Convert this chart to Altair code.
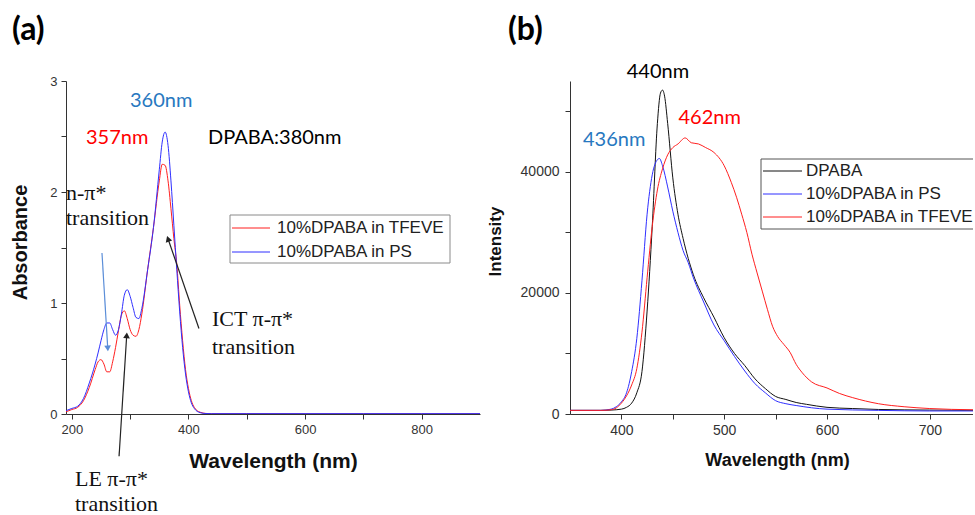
import altair as alt
import pandas as pd

# ---------------- Panel (a): absorbance ----------------
abs_wl = [190, 200, 210, 220, 230, 240, 245, 250, 255, 260, 265, 270, 275, 280, 285, 290,
          295, 300, 305, 310, 315, 320, 330, 340, 350, 355, 360, 365, 370, 375, 380, 385,
          390, 395, 400, 405, 410, 420, 430, 440, 500, 600, 700, 800, 900]
abs_tfeve = [0.02, 0.04, 0.06, 0.12, 0.24, 0.40, 0.47, 0.49, 0.45, 0.38, 0.38, 0.47, 0.60, 0.75, 0.89, 0.93,
             0.86, 0.76, 0.71, 0.70, 0.76, 0.90, 1.30, 1.68, 2.10, 2.25, 2.24, 2.10, 1.85, 1.58, 1.35, 0.98,
             0.66, 0.40, 0.23, 0.12, 0.06, 0.016, 0.005, 0.003, 0.003, 0.002, 0.002, 0.002, 0.002]
abs_ps = [0.03, 0.05, 0.07, 0.14, 0.28, 0.45, 0.55, 0.66, 0.76, 0.82, 0.82, 0.76, 0.71, 0.76, 0.90, 1.07,
          1.12, 1.06, 0.96, 0.87, 0.86, 0.95, 1.30, 1.68, 2.20, 2.45, 2.54, 2.42, 2.10, 1.70, 1.30, 0.92,
          0.60, 0.36, 0.20, 0.10, 0.05, 0.012, 0.004, 0.003, 0.003, 0.003, 0.003, 0.003, 0.003]
abs_series = ["10%DPABA in TFEVE", "10%DPABA in PS"]
abs_colors = ["#ff1f1f", "#2f2fff"]

# annotations (a)
ann_a_sans_label = ["360nm", "357nm", "DPABA:380nm"]
ann_a_sans_wl = [299.8, 224.3, 433.6]
ann_a_sans_val = [2.82, 2.49, 2.49]
ann_a_sans_color = ["#2878c0", "#ff0000", "#000000"]

ann_a_serif_label = ["n-π*", "transition", "ICT π-π*", "transition", "LE π-π*", "transition"]
ann_a_serif_wl = [190, 190, 440.4, 440.4, 205.4, 205.4]
ann_a_serif_val = [1.99, 1.77, 0.856, 0.60, -0.586, -0.81]

arrow_wl = [251.7, 281.0, 418.0]
arrow_val = [1.45, -0.38, 0.77]
arrow_wl2 = [261.5, 294.0, 365.5]
arrow_val2 = [0.60, 0.70, 1.57]
arrow_angle = [176.5, 3.7, 341.5]
arrow_color = ["#5b8ed8", "#222222", "#222222"]

# ---------------- Panel (b): photoluminescence ----------------
pl_dpaba_wl = [350, 380, 390, 400, 405, 410, 415, 420, 425, 430, 435, 438, 440, 442, 445, 450, 455,
               460, 470, 480, 490, 500, 510, 520, 530, 540, 550, 560, 570, 580, 600, 625, 650, 700, 742]
pl_dpaba = [600, 600, 650, 800, 1100, 1800, 3500, 7000, 17000, 31000, 48000, 53000, 53500, 52500, 48000,
            39000, 33000, 29000, 23000, 19200, 16000, 12600, 10000, 8000, 5800, 4200, 2900, 2400, 1900,
            1600, 1100, 900, 750, 650, 600]
pl_ps_wl = [350, 380, 390, 395, 400, 405, 410, 415, 420, 425, 430, 435, 437, 440, 445, 450, 455,
            460, 465, 470, 480, 490, 500, 510, 520, 530, 540, 550, 560, 570, 600, 650, 700, 742]
pl_ps = [600, 600, 800, 1200, 2000, 3500, 7000, 12500, 22000, 33000, 39500, 42000, 42200, 41000, 37500,
         33500, 30000, 27000, 25000, 22500, 18500, 14700, 12100, 9500, 7100, 5000, 3500, 2200, 1700,
         1400, 800, 600, 500, 500]
pl_tfeve_wl = [350, 380, 390, 395, 400, 405, 410, 415, 420, 425, 430, 435, 440, 445, 450, 455, 462,
               468, 475, 482, 490, 500, 507, 512, 517, 522, 527, 532, 537, 542, 547, 552, 558, 564,
               570, 576, 585, 600, 612, 625, 650, 675, 700, 742]
pl_tfeve = [600, 600, 700, 1000, 1800, 3000, 4800, 7500, 13500, 22500, 31000, 37000, 40500, 42800,
            44000, 44600, 45600, 44800, 44600, 44000, 43200, 41000, 38200, 35800, 33000, 30000, 26400,
            23300, 20300, 17300, 14500, 12800, 11500, 10200, 8200, 6800, 5300, 4300, 3400, 2700, 1700,
            1200, 900, 700]
pl_series = ["DPABA", "10%DPABA in PS", "10%DPABA in TFEVE"]
pl_colors = ["#111111", "#2f2fff", "#ff1f1f"]

ann_b_label = ["440nm", "462nm", "436nm"]
ann_b_wl = [405.2, 455.5, 362.6]
ann_b_val = [56530, 48930, 45290]
ann_b_color = ["#000000", "#ff0000", "#2878c0"]

SANS = "Liberation Sans"
SERIF = "Liberation Serif"
CAL = "Lato"

# ---------------- build panel (a) ----------------
WA, HA = 414, 333
n = len(abs_wl)
abs_df = pd.DataFrame({
    "wl": abs_wl * 2,
    "value": abs_tfeve + abs_ps,
    "series": [abs_series[0]] * n + [abs_series[1]] * n,
    "color": [abs_colors[0]] * n + [abs_colors[1]] * n,
})
xa_scale = alt.Scale(domain=[190, 900], nice=False, zero=False)
ya_scale = alt.Scale(domain=[0, 3], nice=False, zero=False)

xa_axis = alt.Axis(values=list(range(200, 900, 100)),
                   labelExpr="datum.value % 200 == 0 ? format(datum.value, 'd') : ''",
                   title="Wavelength (nm)", titleX=WA / 2, titleY=47,
                   titleBaseline="middle", titleAlign="center",
                   titleFontSize=21, labelFontSize=13, labelPadding=4)
ya_axis = alt.Axis(values=[0, 0.5, 1, 1.5, 2, 2.5, 3],
                   labelExpr="datum.value % 1 == 0 ? format(datum.value, 'd') : ''",
                   title="Absorbance", titleX=-46, titleY=161, titleAngle=270,
                   titleBaseline="middle", titleAlign="center",
                   titleFontSize=20, labelFontSize=13, labelPadding=4)

lines_a = alt.Chart(abs_df).mark_line(strokeWidth=1, clip=True, interpolate="monotone").encode(
    x=alt.X("wl:Q", scale=xa_scale, axis=xa_axis),
    y=alt.Y("value:Q", scale=ya_scale, axis=ya_axis),
    color=alt.Color("color:N", scale=None),
    detail="series:N",
    order="wl:Q",
)

ann_a_sans_df = pd.DataFrame({"wl": ann_a_sans_wl, "value": ann_a_sans_val,
                              "label": ann_a_sans_label, "color": ann_a_sans_color})
text_a_sans = alt.Chart(ann_a_sans_df).mark_text(
    align="left", baseline="middle", font=CAL, fontSize=20).encode(
    x=alt.X("wl:Q", scale=xa_scale), y=alt.Y("value:Q", scale=ya_scale),
    text="label:N", color=alt.Color("color:N", scale=None))

ann_a_serif_df = pd.DataFrame({"wl": ann_a_serif_wl, "value": ann_a_serif_val,
                               "label": ann_a_serif_label})
text_a_serif = alt.Chart(ann_a_serif_df).mark_text(
    align="left", baseline="middle", font=SERIF, fontSize=22, color="#111111").encode(
    x=alt.X("wl:Q", scale=xa_scale), y=alt.Y("value:Q", scale=ya_scale),
    text="label:N")

arrow_df = pd.DataFrame({"wl": arrow_wl, "value": arrow_val, "wl2": arrow_wl2,
                         "value2": arrow_val2, "ang": arrow_angle, "color": arrow_color})
arrow_lines = alt.Chart(arrow_df).mark_rule(strokeWidth=1.2).encode(
    x=alt.X("wl:Q", scale=xa_scale), y=alt.Y("value:Q", scale=ya_scale),
    x2="wl2:Q", y2="value2:Q", color=alt.Color("color:N", scale=None))
arrow_heads = alt.Chart(arrow_df).mark_point(shape="triangle", filled=True, size=45, opacity=1).encode(
    x=alt.X("wl2:Q", scale=xa_scale), y=alt.Y("value2:Q", scale=ya_scale),
    angle=alt.Angle("ang:Q", scale=None), color=alt.Color("color:N", scale=None))


def one(d):
    return pd.DataFrame({"k": [d]})


label_a = alt.Chart(one("(a)")).mark_text(
    align="left", baseline="middle", font=CAL, fontWeight="bold", fontSize=32, color="#000").encode(
    text="k:N", x=alt.value(-54), y=alt.value(-51))

leg_a_layers = [
    alt.Chart(one(0)).mark_rect(fill="white", stroke="#8a8a8a", strokeWidth=1).encode(
        x=alt.value(164), x2=alt.value(384), y=alt.value(134), y2=alt.value(182))
]
for i, (lab, col) in enumerate(zip(abs_series, abs_colors)):
    yy = 147 + 24 * i
    leg_a_layers.append(alt.Chart(one(lab)).mark_rule(strokeWidth=1, color=col).encode(
        x=alt.value(166), x2=alt.value(204), y=alt.value(yy)))
    leg_a_layers.append(alt.Chart(one(lab)).mark_text(
        align="left", baseline="middle", font=SANS, fontSize=17, color="#222").encode(
        text="k:N", x=alt.value(211), y=alt.value(yy)))

panel_a = alt.layer(lines_a, text_a_sans, text_a_serif, arrow_lines, arrow_heads, label_a,
                    *leg_a_layers).properties(width=WA, height=HA)

# ---------------- build panel (b) ----------------
WB, HB = 403, 333
pl_df = pd.DataFrame({
    "wl": pl_dpaba_wl + pl_ps_wl + pl_tfeve_wl,
    "value": pl_dpaba + pl_ps + pl_tfeve,
    "series": [pl_series[0]] * len(pl_dpaba_wl) + [pl_series[1]] * len(pl_ps_wl)
              + [pl_series[2]] * len(pl_tfeve_wl),
    "color": [pl_colors[0]] * len(pl_dpaba_wl) + [pl_colors[1]] * len(pl_ps_wl)
             + [pl_colors[2]] * len(pl_tfeve_wl),
})
xb_scale = alt.Scale(domain=[350, 742], nice=False, zero=False)
yb_scale = alt.Scale(domain=[0, 55000], nice=False, zero=False)
xb_axis = alt.Axis(values=list(range(400, 750, 50)),
                   labelExpr="datum.value % 100 == 0 ? format(datum.value, 'd') : ''",
                   title="Wavelength (nm)", titleX=207, titleY=46,
                   titleBaseline="middle", titleAlign="center",
                   titleFontSize=18, labelFontSize=14, labelPadding=4)
yb_axis = alt.Axis(values=list(range(0, 55000, 10000)),
                   labelExpr="datum.value % 20000 == 0 ? format(datum.value, 'd') : ''",
                   title="Intensity", titleX=-75, titleY=160, titleAngle=270,
                   titleBaseline="middle", titleAlign="center",
                   titleFontSize=17, labelFontSize=14, labelPadding=6)

lines_b = alt.Chart(pl_df).mark_line(strokeWidth=1, clip=True, interpolate="monotone").encode(
    x=alt.X("wl:Q", scale=xb_scale, axis=xb_axis),
    y=alt.Y("value:Q", scale=yb_scale, axis=yb_axis),
    color=alt.Color("color:N", scale=None),
    detail="series:N",
    order="wl:Q",
)
ann_b_df = pd.DataFrame({"wl": ann_b_wl, "value": ann_b_val, "label": ann_b_label, "color": ann_b_color})
text_b = alt.Chart(ann_b_df).mark_text(
    align="left", baseline="middle", font=CAL, fontSize=20).encode(
    x=alt.X("wl:Q", scale=xb_scale), y=alt.Y("value:Q", scale=yb_scale),
    text="label:N", color=alt.Color("color:N", scale=None))

label_b = alt.Chart(one("(b)")).mark_text(
    align="left", baseline="middle", font=CAL, fontWeight="bold", fontSize=32, color="#000").encode(
    text="k:N", x=alt.value(-62), y=alt.value(-51))

leg_b_layers = [
    alt.Chart(one(0)).mark_rect(fill="white", stroke="#555555", strokeWidth=1, clip=True).encode(
        x=alt.value(191), x2=alt.value(440), y=alt.value(78), y2=alt.value(148))
]
for i, (lab, col) in enumerate(zip(pl_series, pl_colors)):
    yy = 90 + 23 * i
    leg_b_layers.append(alt.Chart(one(lab)).mark_rule(strokeWidth=1, color=col, clip=True).encode(
        x=alt.value(193), x2=alt.value(232), y=alt.value(yy)))
    leg_b_layers.append(alt.Chart(one(lab)).mark_text(
        align="left", baseline="middle", font=SANS, fontSize=17, color="#222", clip=True).encode(
        text="k:N", x=alt.value(236), y=alt.value(yy)))

panel_b = alt.layer(lines_b, text_b, label_b, *leg_b_layers).properties(width=WB, height=HB)

chart = alt.hconcat(panel_a, panel_b, spacing=90, bounds="flush").properties(
    padding={"left": 10, "top": 14, "right": 0, "bottom": 0}
).configure_view(stroke=None).configure_axis(
    grid=False, domainColor="#333333", tickColor="#333333", labelColor="#333333",
    titleColor="#111111", labelFont=SANS, titleFont=SANS, titleFontWeight="bold",
    tickSize=5, domainWidth=1, tickWidth=1, labelOverlap=False, labelFlush=False,
)

chart.save("out.html", embed_options={"renderer": "svg", "actions": False})
